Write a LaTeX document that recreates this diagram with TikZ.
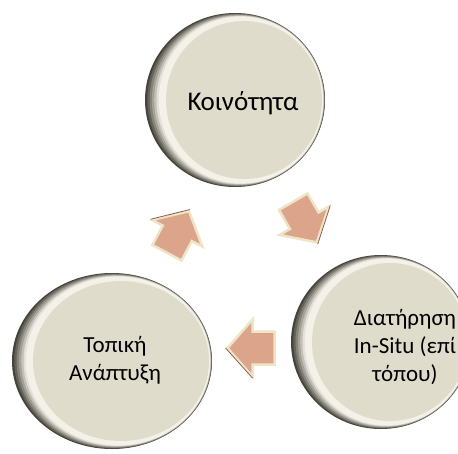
\documentclass[tikz,border=0pt]{standalone}
\usepackage{fontspec}
\setmainfont{Carlito}
\usepackage{tikz}
\definecolor{rimdark}{RGB}{70,68,58}
\definecolor{rimlight}{RGB}{244,242,232}
\definecolor{facecream}{RGB}{223,220,204}
\definecolor{arrowfill}{RGB}{220,164,138}
\definecolor{arrowrim}{RGB}{238,228,198}
\definecolor{arrowdark}{RGB}{140,100,76}
\tikzstyle{face} = [fill=facecream]
\tikzstyle{btntext} = [align=center, text=black, font=\fontsize{23}{28}\selectfont]
\tikzstyle{bigtext} = [btntext, font=\fontsize{27}{29}\selectfont]
\tikzstyle{flowarrow} = [fill=arrowfill, draw=arrowrim, line width=2.5pt, line join=miter]

\begin{document}
\begin{tikzpicture}[x=1pt,y=-1pt]
  \useasboundingbox (0,0) rectangle (458,453);
  \clip (0,0) rectangle (458,453);
  % buttons: rim layers, then the face
  \foreach \cx/\cy/\rx/\ry in {235/100/90/87, 381/342/90/87, 112/361/100/88} {
    \foreach \i [evaluate=\i as \mix using {max(0,100-\i*18)}] in {0,...,8}
      \fill[rimdark!\mix!rimlight] (\cx+\i,\cy) ellipse [x radius=\rx-1.3*\i, y radius=\ry-0.6*\i];
    \fill[face] (\cx+9,\cy) ellipse [x radius=\rx-12, y radius=\ry-8];
  }
  \node[bigtext] (comm) at (243,103) {Κοινότητα};
  \node[btntext] (insitu) at (405,347) {Διατήρηση\\In-Situ (επί\\τόπου)};
  \node[btntext] (local) at (115,360) {Τοπική\\Ανάπτυξη};

  % arrows of the cycle
  \foreach \pos/\ang in {{(178,232)}/62, {(305,222)}/-60, {(251,348)}/180} {
    \draw[flowarrow, shift={\pos}, rotate=\ang]
      (-23.5,-16.5) -- (-1.5,-16.5) -- (-1.5,-28.5) -- (23.5,0)
      -- (-1.5,28.5) -- (-1.5,16.5) -- (-23.5,16.5) -- cycle;
    \draw[arrowdark, line width=0.8pt, shift={\pos}, rotate=\ang]
      (-1.5,-30) -- (25.5,0);
  }
\end{tikzpicture}
\end{document}
